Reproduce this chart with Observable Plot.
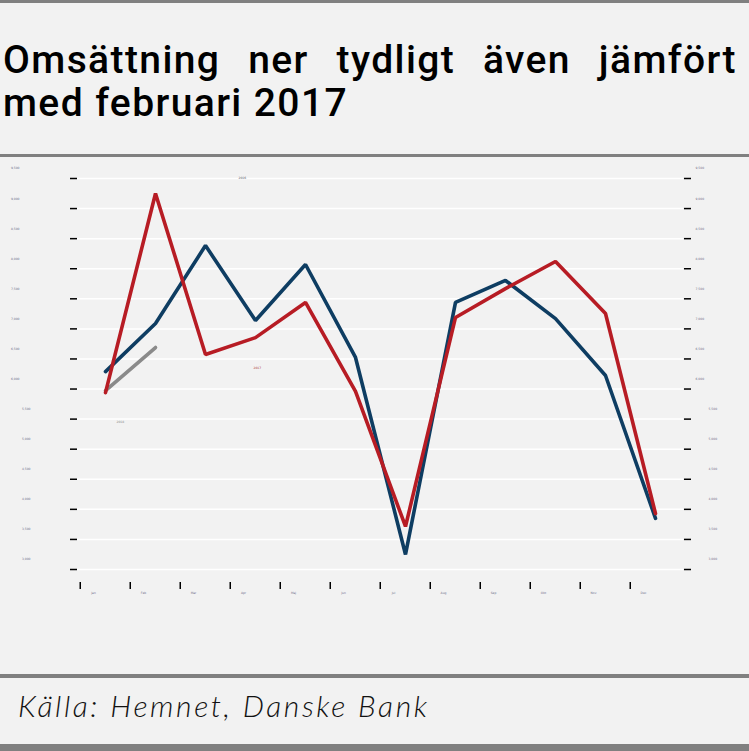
<!DOCTYPE html>
<html>
<head>
<meta charset="utf-8">
<script src="https://cdn.jsdelivr.net/npm/d3@7"></script>
<script src="https://cdn.jsdelivr.net/npm/@observablehq/plot@0.6"></script>
<style>
  html, body { margin: 0; padding: 0; background: #f2f2f2; }
  #page { position: relative; width: 749px; height: 751px; background: #f2f2f2; overflow: hidden; }
  .rule { position: absolute; left: 0; width: 749px; background: #808080; }
  #title { position: absolute; left: 3px; top: 39px; width: 734px; font-family: Roboto, sans-serif; font-weight: 500; font-size: 39px; letter-spacing: 1.4px; line-height: 43px; color: #000; }
  #title .l1 { text-align: justify; text-align-last: justify; white-space: nowrap; }
  #caption { position: absolute; left: 18px; top: 687px; font-family: Lato, sans-serif; font-style: italic; font-weight: 300; font-size: 30px; letter-spacing: 2.6px; line-height: 36px; color: #111; white-space: nowrap; }
  #chart { position: absolute; left: 0; top: 160px; }
</style>
</head>
<body>
<div id="page">
  <div class="rule" style="top:0;height:3px"></div>
  <div id="title"><div class="l1">Omsättning ner tydligt även jämfört</div><div>med februari 2017</div></div>
  <div class="rule" style="top:154px;height:3px"></div>
  <div id="chart"></div>
  <div class="rule" style="top:674px;height:4px"></div>
  <div id="caption">Källa: Hemnet, Danske Bank</div>
  <div class="rule" style="top:744px;height:7px"></div>
</div>
<script>
const months = ["Jan","Feb","Mar","Apr","Maj","Jun","Jul","Aug","Sep","Okt","Nov","Dec"];
const sales2016 = [6290, 7090, 8385, 7140, 8070, 6525, 3250, 7440, 7805, 7170, 6225, 3850];
const sales2017 = [5940, 9250, 6575, 6855, 7440, 5960, 3715, 7190, 7670, 8120, 7255, 3930];
const sales2018 = [5975, 6690];
const yTicksLow = [3000, 3500, 4000, 4500, 5000, 5500];
const yTicksHigh = [6000, 6500, 7000, 7500, 8000, 8500, 9000, 9500];
const yTicks = yTicksLow.concat(yTicksHigh);
const seriesNames = ["2016", "2017", "2018"];

const blue = "#0e3d62", red = "#b71c24", gray = "#8a8a8a";
const toRows = (vals) => vals.map((v, i) => ({month: months[i], value: v}));

const labelFill = "#6e6e8a";
const chart = Plot.plot({
  width: 749,
  height: 510,
  marginLeft: 77,
  marginRight: 66,
  marginTop: 18,
  marginBottom: 101,
  style: {background: "transparent", fontFamily: "DejaVu Sans, sans-serif"},
  x: {type: "point", domain: months, padding: 0.5, label: null},
  y: {domain: [3000, 9500], label: null},
  marks: [
    Plot.gridY(yTicks, {stroke: "white", strokeOpacity: 1, strokeWidth: 1.5}),
    Plot.axisY(yTicks, {anchor: "left", tickSize: 7, stroke: "#000", strokeWidth: 1.5, tickFormat: () => ""}),
    Plot.axisY(yTicks, {anchor: "right", tickSize: 7, stroke: "#000", strokeWidth: 1.5, tickFormat: () => ""}),
    Plot.axisY(yTicksHigh, {anchor: "left", tickSize: 0, tickPadding: 58, dy: -10, fontSize: 3, fill: labelFill}),
    Plot.axisY(yTicksLow, {anchor: "left", tickSize: 0, tickPadding: 47, dy: -10, fontSize: 3, fill: labelFill}),
    Plot.axisY(yTicksHigh, {anchor: "right", tickSize: 0, tickPadding: 12, dy: -10, fontSize: 3, fill: labelFill}),
    Plot.axisY(yTicksLow, {anchor: "right", tickSize: 0, tickPadding: 25, dy: -10, fontSize: 3, fill: labelFill}),
    Plot.axisX({anchor: "bottom", tickSize: 7, dx: -25.25, dy: 13, stroke: "#000", strokeWidth: 1.5, tickFormat: () => ""}),
    Plot.axisX({anchor: "bottom", tickSize: 0, tickPadding: 9, dx: -12, dy: 13, fontSize: 3, fill: labelFill}),
    Plot.line(toRows(sales2016), {x: "month", y: "value", stroke: blue, strokeWidth: 3.6, strokeLinejoin: "miter"}),
    Plot.line(toRows(sales2018), {x: "month", y: "value", stroke: gray, strokeWidth: 3.6, strokeLinejoin: "miter"}),
    Plot.line(toRows(sales2017), {x: "month", y: "value", stroke: red, strokeWidth: 3.6, strokeLinejoin: "miter"}),
    Plot.text([seriesNames[0]], {frameAnchor: "top-left", dx: 161, dy: -2, fontSize: 3, fill: "#556"}),
    Plot.text([seriesNames[1]], {frameAnchor: "top-left", dx: 176, dy: 188, fontSize: 3, fill: "#a33"}),
    Plot.text([seriesNames[2]], {frameAnchor: "top-left", dx: 39, dy: 242, fontSize: 3, fill: "#888"})
  ]
});
document.getElementById("chart").appendChild(chart);
</script>
</body>
</html>
